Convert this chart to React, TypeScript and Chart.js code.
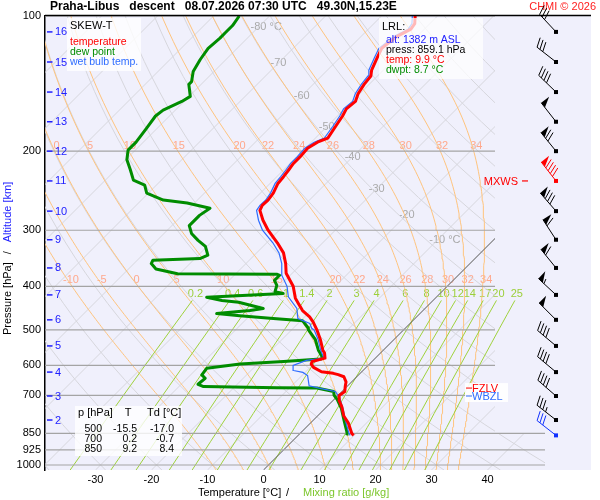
import React, { useEffect, useRef } from "react";
import { Chart, registerables } from "chart.js";

Chart.register(...registerables);

const FONT = '"Liberation Sans", Arial, Helvetica, sans-serif';
Chart.defaults.font.family = FONT;

// ---------------- data ----------------
const TEMP_P = [859.1, 850, 807, 778, 742, 720, 700, 686, 669, 653, 636, 629, 625, 620, 606, 596, 588, 578, 563, 555, 526, 500, 480, 468, 453, 436, 425, 400, 374, 356, 337, 320, 300, 285, 271, 264, 257, 248, 236, 228, 220, 213, 206, 197, 191, 187, 176, 167, 161, 155, 149, 142, 136, 132, 124, 118, 111, 107, 104, 100];
const TEMP_T = [9.9, 9.2, 6.8, 4.7, 2.7, 1.2, 0.2, 0.5, -0.3, -1.0, -2.3, -3.7, -4.8, -7.2, -9.4, -10.4, -10.7, -9.0, -10.0, -10.8, -13.1, -15.5, -17.6, -19.1, -21.5, -23.6, -25.0, -27.5, -31.1, -32.9, -35.2, -38.1, -42.0, -44.7, -47.0, -47.5, -47.4, -47.7, -48.6, -48.8, -49.1, -49.4, -49.4, -49.6, -48.9, -47.8, -48.5, -49.1, -49.7, -49.4, -50.3, -50.9, -51.2, -52.1, -53.3, -54.2, -53.6, -52.4, -52.7, -54.0];

const DEW_P = [859.1, 850, 797, 748, 715, 700, 686, 674, 673, 669, 661, 641, 630, 609, 596, 588, 581, 578, 563, 555, 526, 500, 496, 477, 472, 465, 460, 453, 448, 434, 430, 423, 415, 411, 398, 388, 378, 376, 375, 366, 356, 350, 347, 341, 326, 316, 305, 293, 278, 268, 261, 257, 248, 238, 232, 220, 209, 199, 191, 178, 167, 162, 155, 151, 142, 140, 133, 125, 118, 112, 109, 105, 100];
const DEW_T = [8.7, 8.4, 5.6, 2.9, 0.6, -0.7, -1.5, -5.1, -12.3, -25.6, -27.0, -26.8, -28.0, -28.3, -23.1, -15.8, -9.6, -9.4, -10.8, -11.6, -14.0, -17.0, -17.3, -19.7, -25.3, -31.8, -36.3, -30.9, -28.9, -34.4, -37.7, -41.0, -28.0, -29.8, -30.6, -31.9, -31.9, -32.5, -50.4, -55.1, -56.9, -57.2, -49.1, -48.3, -50.3, -52.7, -55.1, -56.9, -56.9, -56.3, -61.3, -66.1, -70.3, -72.1, -75.0, -77.4, -79.8, -81.3, -81.3, -81.9, -82.5, -82.2, -80.4, -79.8, -82.2, -82.2, -83.7, -84.6, -85.2, -84.9, -84.9, -84.9, -85.4];

const WB_P = [859.1, 850, 800, 750, 710, 700, 686, 676, 666, 632, 622, 616, 600, 585, 578, 555, 526, 500, 496, 484, 472, 448, 422, 400, 378, 356, 337, 320, 300, 285, 271, 264, 257, 248, 236, 228, 220, 213, 206, 197, 191, 187, 176, 167, 161, 155, 149, 142, 136, 132, 124, 118, 111, 107, 104, 100];
const WB_T = [9.3, 8.7, 6.0, 3.3, 0.8, 0.0, -1.2, -4.2, -6.9, -9.0, -10.4, -12.4, -13.4, -11.9, -9.2, -11.2, -13.5, -16.0, -16.7, -17.9, -20.9, -22.9, -26.5, -28.6, -31.5, -33.6, -36.0, -38.9, -43.0, -45.5, -47.6, -47.9, -47.8, -48.2, -49.1, -49.3, -49.6, -49.9, -49.9, -50.1, -49.5, -48.4, -49.0, -49.6, -50.2, -49.9, -50.8, -51.4, -51.7, -52.6, -53.8, -54.7, -54.1, -52.9, -53.2, -54.5];

// altitude marks (km) and their pressure
const KM_LABELS = [2, 3, 4, 5, 6, 7, 8, 9, 10, 11, 12, 13, 14, 15, 16];
const KM_P = [794, 702, 621, 543, 475, 418, 364, 315, 272, 233, 200, 172, 147.7, 126.6, 108.5];
// winds at the altitude marks
const WIND_DIR = [308, 311, 310, 310, 315, 313, 321, 327, 319, 322, 321, 322, 314, 308, 317];
const WIND_SPD = [35, 40, 40, 40, 50, 55, 60, 60, 80, 90, 70, 50, 40, 30, 30];
const LRL_WIND = { p: 859.1, dir: 308, spd: 30 };
const MXWS_P = 233;
const FZLV_P = 674;
const WBZL_P = 702;

const P_TICKS = [100, 200, 300, 400, 500, 600, 700, 850, 925, 1000];
const X_TICKS = [-30, -20, -10, 0, 10, 20, 30, 40];

const TABLE_P = [500, 700, 850];
const TABLE_T = [-15.5, 0.2, 9.2];
const TABLE_TD = [-17.0, -0.7, 8.4];

const MIXING = [0.2, 0.4, 0.6, 1, 1.4, 2, 3, 4, 6, 8, 10, 12, 14, 17, 20, 25];
const THETA_W = [-10, -5, 0, 5, 10, 15, 20, 22, 24, 26, 28, 30, 32, 34];
const ISO_LABELS = [
  { t: -80, p: 105.8, unit: true },
  { t: -70, p: 127.3, unit: false },
  { t: -60, p: 150.6, unit: false },
  { t: -50, p: 176.5, unit: false },
  { t: -40, p: 206, unit: false },
  { t: -30, p: 242.6, unit: false },
  { t: -20, p: 277.3, unit: false },
  { t: -10, p: 316, unit: true },
];

// ---------------- diagram geometry ----------------
const P_TOP = 100;
const P_BOTTOM = 1026;
const SKEW = 80.18; // degC per decade of pressure
const X_MIN = -39.02;
const X_MAX = 58.48;
const GRID_RIGHT = 41.34;
const GRID_RIGHT_LOW = 50.27;

const sx = (t: number, p: number) => t + SKEW * Math.log10(P_BOTTOM / p);

function lapse(p: number, tK: number) {
  const tc = tK - 273.15;
  const es = 6.112 * Math.exp((17.67 * tc) / (tc + 243.5));
  const rs = (0.622 * es) / (p - es);
  const Lv = 2.501e6;
  return ((287.04 * tK + Lv * rs) / (1005.7 + (Lv * Lv * rs * 0.622) / (287.04 * tK * tK))) / p;
}

function moistLine(tw: number) {
  const pts: { x: number; y: number }[] = [];
  let t = tw + 273.15;
  let p = 1000;
  t = t + lapse(p, t) * (P_BOTTOM - 1000);
  p = P_BOTTOM;
  pts.push({ x: sx(t - 273.15, p), y: p });
  let k = 0;
  while (p > P_TOP + 1e-6) {
    const h = Math.max(-2, P_TOP - p);
    const k1 = lapse(p, t);
    const k2 = lapse(p + h / 2, t + (k1 * h) / 2);
    t += k2 * h;
    p += h;
    k++;
    if (k % 3 === 0 || p <= P_TOP + 1e-6) pts.push({ x: sx(t - 273.15, p), y: p });
  }
  return pts;
}

function logSteps(p0: number, p1: number, n: number) {
  const out: number[] = [];
  for (let i = 0; i <= n; i++) out.push(p0 * Math.pow(p1 / p0, i / n));
  return out;
}

function mixLine(w: number) {
  return logSteps(P_BOTTOM, 430, 12).map((p) => {
    const e = (w * p) / (622 + w);
    const l = Math.log(e / 6.112);
    const td = (243.5 * l) / (17.67 - l);
    return { x: sx(td, p), y: p };
  });
}

function mixX(w: number, p: number) {
  const e = (w * p) / (622 + w);
  const l = Math.log(e / 6.112);
  return sx((243.5 * l) / (17.67 - l), p);
}

function interpX(pts: { x: number; y: number }[], p: number) {
  for (let i = 0; i < pts.length - 1; i++) {
    const a = pts[i], b = pts[i + 1];
    if ((a.y >= p && b.y <= p) || (a.y <= p && b.y >= p)) {
      const f = (Math.log(p) - Math.log(a.y)) / (Math.log(b.y) - Math.log(a.y) || 1);
      return a.x + f * (b.x - a.x);
    }
  }
  return NaN;
}

const profile = (ps: number[], ts: number[]) => ps.map((p, i) => ({ x: sx(ts[i], p), y: p }));

const moistLines = THETA_W.map((tw) => ({ tw, pts: moistLine(tw) }));

function buildDatasets() {
  const ds: any[] = [];
  const base = { showLine: true, pointRadius: 0, borderWidth: 1, fill: false, tension: 0 };
  for (let t = -120; t <= 40; t += 10) {
    ds.push({ ...base, gridClip: true, order: 10, borderColor: "#d6d6dc", data: [{ x: sx(t, P_BOTTOM), y: P_BOTTOM }, { x: sx(t, P_TOP), y: P_TOP }] });
  }
  for (let th = -40; th <= 200; th += 10) {
    const thK = th + 273.15;
    ds.push({ ...base, gridClip: true, order: 10, borderColor: "#d6d6dc", data: logSteps(P_BOTTOM, P_TOP, 30).map((p) => ({ x: sx(thK * Math.pow(p / 1000, 0.2857) - 273.15, p), y: p })) });
  }
  for (const m of moistLines) {
    ds.push({ ...base, order: 9, borderColor: "#ffc47e", data: m.pts });
  }
  for (const w of MIXING) {
    ds.push({ ...base, order: 8, borderColor: "#9fd23c", data: mixLine(w) });
  }
  ds.push({ ...base, gridClip: true, order: 7, borderColor: "#606060", data: [{ x: sx(0, P_BOTTOM), y: P_BOTTOM }, { x: sx(0, P_TOP), y: P_TOP }] });
  for (const p of P_TICKS) {
    ds.push({ ...base, order: 6, borderColor: "#a4a4a4", borderWidth: 1.2, data: [{ x: X_MIN, y: p }, { x: p >= 850 ? GRID_RIGHT_LOW : GRID_RIGHT, y: p }] });
  }
  ds.push({ ...base, order: 3, borderColor: "#008c00", borderWidth: 3, borderJoinStyle: "round", data: profile(DEW_P, DEW_T) });
  ds.push({ ...base, order: 2, borderColor: "#2e6cff", borderWidth: 1.2, data: profile(WB_P, WB_T) });
  ds.push({ ...base, order: 1, borderColor: "#ff0000", borderWidth: 3, borderJoinStyle: "round", data: profile(TEMP_P, TEMP_T) });
  return ds;
}

// ---------------- drawing helpers ----------------
function drawBarb(ctx: CanvasRenderingContext2D, x: number, y: number, dir: number, spd: number, color: string) {
  const L = 24, sp = 3.6, bl = 10;
  const r = (dir * Math.PI) / 180;
  const ux = Math.sin(r), uy = -Math.cos(r);
  const nx = -uy, ny = ux;
  const bx = nx * 0.94 + ux * 0.34, by = ny * 0.94 + uy * 0.34;
  ctx.save();
  ctx.strokeStyle = color;
  ctx.fillStyle = color;
  ctx.lineWidth = 1;
  ctx.beginPath();
  ctx.moveTo(x, y);
  ctx.lineTo(x + ux * L, y + uy * L);
  ctx.stroke();
  ctx.fillRect(x - 2, y - 2, 4, 4);
  let s = Math.round(spd / 5) * 5;
  const pen = Math.floor(s / 50);
  s -= pen * 50;
  const full = Math.floor(s / 10);
  s -= full * 10;
  const half = s >= 5 ? 1 : 0;
  let d = L;
  for (let i = 0; i < pen; i++) {
    const x0 = x + ux * d, y0 = y + uy * d;
    const x1 = x + ux * (d - 6), y1 = y + uy * (d - 6);
    ctx.beginPath();
    ctx.moveTo(x0, y0);
    ctx.lineTo(x0 + nx * bl, y0 + ny * bl);
    ctx.lineTo(x1, y1);
    ctx.closePath();
    ctx.fill();
    d -= 7.5;
  }
  for (let i = 0; i < full; i++) {
    const x0 = x + ux * d, y0 = y + uy * d;
    ctx.beginPath();
    ctx.moveTo(x0, y0);
    ctx.lineTo(x0 + bx * bl, y0 + by * bl);
    ctx.stroke();
    d -= sp;
  }
  if (half) {
    if (pen === 0 && full === 0) d -= sp;
    const x0 = x + ux * d, y0 = y + uy * d;
    ctx.beginPath();
    ctx.moveTo(x0, y0);
    ctx.lineTo(x0 + bx * bl * 0.5, y0 + by * bl * 0.5);
    ctx.stroke();
  }
  ctx.restore();
}

const bgPlugin = {
  id: "skewBg",
  beforeDraw(chart: any) {
    const { ctx, chartArea: a } = chart;
    ctx.save();
    ctx.fillStyle = "#ffffff";
    ctx.fillRect(0, 0, chart.width, chart.height);
    ctx.fillStyle = "#f0f0fc";
    ctx.fillRect(a.left, a.top, a.right - a.left, a.bottom - a.top);
    ctx.restore();
  },
  beforeDatasetsDraw(chart: any) {
    const { ctx } = chart;
    const xs = chart.scales.x, ys = chart.scales.y;
    ctx.save();
    ctx.font = `11px ${FONT}`;
    ctx.textBaseline = "middle";
    ctx.textAlign = "center";
    // moist adiabat labels
    ctx.fillStyle = "#ffa88c";
    for (const m of moistLines) {
      for (const [lp, dx] of [[195, 4], [388, 3]]) {
        const px = xs.getPixelForValue(interpX(m.pts, lp)) + dx;
        if (!(px > 48 && px < 497)) continue;
        ctx.fillText(String(m.tw), px, ys.getPixelForValue(lp));
      }
    }
    // mixing ratio labels
    ctx.fillStyle = "#9ccf3a";
    for (const w of MIXING) {
      const px = xs.getPixelForValue(mixX(w, 415));
      ctx.fillText(String(w), px - 2, ys.getPixelForValue(415));
    }
    // isotherm labels
    ctx.fillStyle = "#a8a8a8";
    ctx.textAlign = "left";
    for (const l of ISO_LABELS) {
      const px = xs.getPixelForValue(sx(l.t, l.p));
      const num = String(l.t);
      const w = ctx.measureText(num).width;
      ctx.fillText(l.unit ? num + " °C" : num, px - w / 2, ys.getPixelForValue(l.p));
    }
    ctx.restore();
  },
};

const clipPlugin = {
  id: "gridClip",
  beforeDatasetDraw(chart: any, args: any) {
    const ds = chart.data.datasets[args.index];
    if (!ds.gridClip) return;
    const { ctx, chartArea: a } = chart;
    const xs = chart.scales.x, ys = chart.scales.y;
    const xr = xs.getPixelForValue(GRID_RIGHT), xr2 = xs.getPixelForValue(GRID_RIGHT_LOW);
    const y850 = ys.getPixelForValue(850);
    ctx.save();
    ctx.beginPath();
    ctx.moveTo(a.left, a.top);
    ctx.lineTo(xr, a.top);
    ctx.lineTo(xr, y850);
    ctx.lineTo(xr2, y850);
    ctx.lineTo(xr2, a.bottom);
    ctx.lineTo(a.left, a.bottom);
    ctx.closePath();
    ctx.clip();
  },
  afterDatasetDraw(chart: any, args: any) {
    if (chart.data.datasets[args.index].gridClip) chart.ctx.restore();
  },
};

const overlayPlugin = {
  id: "overlay",
  afterDraw(chart: any) {
    const { ctx, chartArea: a } = chart;
    const ys = chart.scales.y;
    ctx.save();
    // top frame line
    ctx.strokeStyle = "#000";
    ctx.lineWidth = 1.5;
    ctx.beginPath();
    ctx.moveTo(a.left, a.top - 0.5);
    ctx.lineTo(a.right, a.top - 0.5);
    ctx.stroke();

    // title
    ctx.textBaseline = "middle";
    ctx.textAlign = "left";
    ctx.fillStyle = "#000";
    ctx.font = `bold 12px ${FONT}`;
    ctx.fillText("Praha-Libus   descent   08.07.2026 07:30 UTC   49.30N,15.23E", 50, 7);
    ctx.textAlign = "right";
    ctx.fillStyle = "#ff2020";
    ctx.font = `11px ${FONT}`;
    ctx.fillText("CHMI © 2026", 596, 7);

    // x axis title
    ctx.textAlign = "left";
    ctx.font = `11px ${FONT}`;
    ctx.fillStyle = "#000";
    ctx.fillText("Temperature [°C]", 198, 493);
    ctx.fillText("/", 286, 493);
    ctx.fillStyle = "#7cc62c";
    ctx.fillText("Mixing ratio [g/kg]", 303, 493);

    // y axis title
    ctx.save();
    ctx.translate(8, 335);
    ctx.rotate(-Math.PI / 2);
    ctx.fillStyle = "#000";
    ctx.fillText("Pressure [hPa]", 0, 0);
    const w1 = ctx.measureText("Pressure [hPa]").width;
    ctx.fillText("/", w1 + 8, 0);
    ctx.fillStyle = "#2020ff";
    ctx.fillText("Altitude [km]", w1 + 20, 0);
    ctx.restore();

    // altitude km marks
    ctx.strokeStyle = "#2020ff";
    ctx.fillStyle = "#2020ff";
    ctx.lineWidth = 1.5;
    ctx.font = `11px ${FONT}`;
    ctx.textAlign = "left";
    KM_LABELS.forEach((k, i) => {
      const y = ys.getPixelForValue(KM_P[i]);
      ctx.beginPath();
      ctx.moveTo(a.left + 2, y);
      ctx.lineTo(a.left + 7.5, y);
      ctx.stroke();
      ctx.fillText(String(k), a.left + 10, y + 0.5);
    });

    // legend box
    ctx.fillStyle = "rgba(255,255,255,0.8)";
    ctx.fillRect(67, 18, 74, 53);
    ctx.font = `11px ${FONT}`;
    ctx.fillStyle = "#000";
    ctx.fillText("SKEW-T", 70, 26);
    ctx.font = `10.5px ${FONT}`;
    ctx.fillStyle = "#ff0000";
    ctx.fillText("temperature", 70, 42);
    ctx.fillStyle = "#008c00";
    ctx.fillText("dew point", 70, 52);
    ctx.fillStyle = "#2e6cff";
    ctx.fillText("wet bulb temp.", 70, 62);

    // LRL box
    ctx.fillStyle = "rgba(255,255,255,0.72)";
    ctx.fillRect(379, 18, 104, 61);
    ctx.font = `11px ${FONT}`;
    ctx.fillStyle = "#000";
    ctx.fillText("LRL:", 382, 27);
    ctx.font = `10.5px ${FONT}`;
    ctx.fillStyle = "#2020ff";
    ctx.fillText("alt: 1382 m ASL", 386, 40);
    ctx.fillStyle = "#000";
    ctx.fillText("press: 859.1 hPa", 386, 50);
    ctx.fillStyle = "#ff0000";
    ctx.fillText("temp: 9.9 °C", 386, 60);
    ctx.fillStyle = "#008c00";
    ctx.fillText("dwpt: 8.7 °C", 386, 70);

    // table box
    ctx.fillStyle = "rgba(255,255,255,0.8)";
    ctx.fillRect(75, 406, 107, 50);
    ctx.fillStyle = "#000";
    ctx.font = `11px ${FONT}`;
    ctx.fillText("p [hPa]", 78, 413);
    ctx.textAlign = "center";
    ctx.fillText("T", 128, 413);
    ctx.textAlign = "left";
    ctx.fillText("Td [°C]", 147, 413);
    ctx.font = `10.5px ${FONT}`;
    ctx.textAlign = "right";
    TABLE_P.forEach((p, i) => {
      const y = 429 + i * 10;
      ctx.fillText(String(p), 102, y);
      ctx.fillText(TABLE_T[i].toFixed(1), 137, y);
      ctx.fillText(TABLE_TD[i].toFixed(1), 174, y);
    });

    // FZLV / WBZL
    const yf = ys.getPixelForValue(FZLV_P), yw = ys.getPixelForValue(WBZL_P);
    ctx.fillStyle = "rgba(255,255,255,0.9)";
    ctx.fillRect(465, yf - 5, 43, yw - yf + 11);
    ctx.font = `11px ${FONT}`;
    ctx.textAlign = "left";
    ctx.lineWidth = 1;
    ctx.strokeStyle = "#ff0000";
    ctx.fillStyle = "#ff0000";
    ctx.beginPath(); ctx.moveTo(466, yf); ctx.lineTo(472, yf); ctx.stroke();
    ctx.fillText("FZLV", 472, yf + 1);
    ctx.strokeStyle = "#2e6cff";
    ctx.fillStyle = "#2e6cff";
    ctx.beginPath(); ctx.moveTo(466, yw); ctx.lineTo(472, yw); ctx.stroke();
    ctx.fillText("WBZL", 472, yw + 1);

    // MXWS
    const ym = ys.getPixelForValue(MXWS_P);
    ctx.fillStyle = "#ff0000";
    ctx.strokeStyle = "#ff0000";
    ctx.textAlign = "right";
    ctx.fillText("MXWS", 518, ym + 1);
    ctx.lineWidth = 1.2;
    ctx.beginPath(); ctx.moveTo(522, ym); ctx.lineTo(528, ym); ctx.stroke();

    // wind barbs
    const bxp = a.right - 35;
    KM_P.forEach((p, i) => {
      drawBarb(ctx, bxp, ys.getPixelForValue(p), WIND_DIR[i], WIND_SPD[i], p === MXWS_P ? "#ff0000" : "#000000");
    });
    drawBarb(ctx, bxp, ys.getPixelForValue(LRL_WIND.p), LRL_WIND.dir, LRL_WIND.spd, "#1030ff");
    ctx.restore();
  },
};

export default function App() {
  const ref = useRef<HTMLCanvasElement>(null);
  useEffect(() => {
    const canvas = ref.current;
    if (!canvas) return;
    const chart = new Chart(canvas, {
      type: "scatter",
      data: { datasets: buildDatasets() },
      options: {
        animation: false,
        responsive: false,
        maintainAspectRatio: false,
        events: [],
        layout: { padding: { top: 16, right: 9, left: 0, bottom: 0 } },
        plugins: { legend: { display: false }, tooltip: { enabled: false }, title: { display: false } },
        scales: {
          x: {
            type: "linear",
            min: X_MIN,
            max: X_MAX,
            grid: { display: false, drawTicks: false },
            border: { display: false },
            ticks: { color: "#000", font: { size: 11, family: FONT }, padding: 3, maxRotation: 0, callback: (v: any) => String(v) },
            afterBuildTicks: (s: any) => { s.ticks = X_TICKS.map((v) => ({ value: v })); },
            afterFit: (s: any) => { s.height = 30; },
          },
          y: {
            type: "logarithmic",
            reverse: true,
            min: P_TOP,
            max: P_BOTTOM,
            grid: { display: false, drawTicks: false },
            border: { display: true, color: "#000", width: 1.5 },
            ticks: { color: "#000", font: { size: 11, family: FONT }, padding: 4, callback: (v: any) => String(v) },
            afterBuildTicks: (s: any) => { s.ticks = P_TICKS.map((v) => ({ value: v })); },
            afterFit: (s: any) => { s.width = 45; },
          },
        },
      } as any,
      plugins: [bgPlugin, clipPlugin, overlayPlugin],
    });
    return () => chart.destroy();
  }, []);
  return (
    <div style={{ position: "absolute", left: 0, top: 0, width: 600, height: 500, background: "#fff" }}>
      <canvas ref={ref} width={600} height={500} style={{ display: "block", width: 600, height: 500 }} />
    </div>
  );
}
